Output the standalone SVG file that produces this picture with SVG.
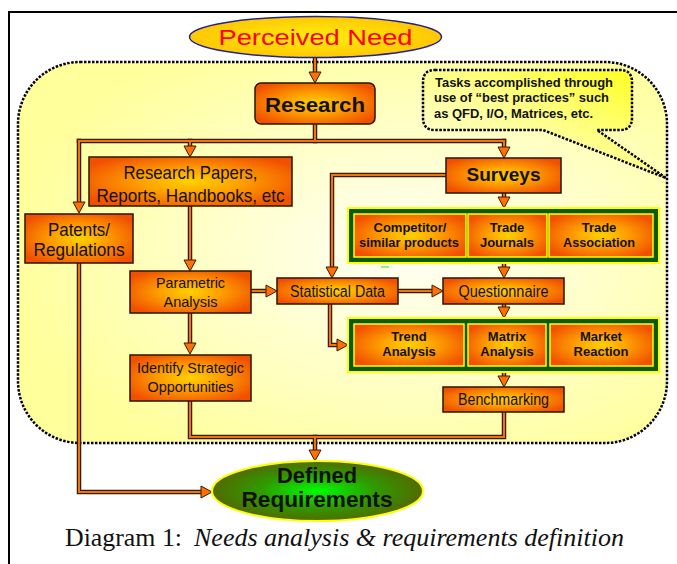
<svg xmlns="http://www.w3.org/2000/svg" xmlns:xlink="http://www.w3.org/1999/xlink" width="677" height="564" viewBox="0 0 677 564">
<defs>
<style>
.box{fill:url(#gOrange);stroke:#2a1400;stroke-width:1.5}
.ibox{fill:url(#gOrange);stroke:#ffff00;stroke-width:1.5}
.frame{fill:#0b5a0b;stroke:#ffff00;stroke-width:2}
.n{font-family:"Liberation Sans Narrow","Liberation Sans",Arial,sans-serif;fill:#111;text-anchor:middle}
.b{font-family:"Liberation Sans",Arial,sans-serif;font-weight:bold;fill:#111;text-anchor:middle}
.dot{stroke:#000;stroke-width:2.5;stroke-dasharray:2.5 1.5}
.co{fill:none;stroke:#3a1c00;stroke-width:4.5;stroke-linecap:square}
.ci{fill:none;stroke:#ee7410;stroke-width:2;stroke-linecap:square}
.arr{marker-end:url(#ah)}
</style>
<radialGradient id="gOrange" cx="0.5" cy="0.5" r="0.6">
<stop offset="0" stop-color="#ffd200"/>
<stop offset="0.4" stop-color="#ffa200"/>
<stop offset="1" stop-color="#f05000"/>
</radialGradient>
<radialGradient id="gRegion" cx="0.6" cy="0.5" r="0.62">
<stop offset="0" stop-color="#fffff6"/>
<stop offset="1" stop-color="#ffff9c"/>
</radialGradient>
<linearGradient id="gCallout" x1="0" y1="1" x2="1" y2="0">
<stop offset="0" stop-color="#fffff0"/>
<stop offset="0.5" stop-color="#ffff90"/>
<stop offset="1" stop-color="#ffff10"/>
</linearGradient>
<radialGradient id="gPerceived" cx="0.5" cy="0.5" r="0.6">
<stop offset="0" stop-color="#ffee10"/>
<stop offset="1" stop-color="#ffc000"/>
</radialGradient>
<radialGradient id="gDefined" cx="0.5" cy="0.5" r="0.55">
<stop offset="0" stop-color="#00ff00"/>
<stop offset="0.5" stop-color="#2f9a00"/>
<stop offset="1" stop-color="#5a6000"/>
</radialGradient>
<marker id="ah" markerUnits="userSpaceOnUse" markerWidth="16" markerHeight="16" refX="1" refY="8" orient="auto" overflow="visible">
<path d="M1,2 L12,8 L1,14 Z" fill="#ff7000" stroke="#3a1c00" stroke-width="1"/>
</marker>
<path id="p1" d="M315,57 V72"/>
<path id="p2" d="M315,124 V141"/>
<path id="p3" d="M79,141 H504"/>
<path id="p4" d="M190,141 V146"/>
<path id="p5" d="M79,141 V202"/>
<path id="p6" d="M504,141 V147"/>
<path id="p7" d="M190,206 V260"/>
<path id="p8" d="M251,291 H266"/>
<path id="p9" d="M446,175 H332 V267"/>
<path id="p10" d="M504,193 V197"/>
<path id="p11" d="M504,263 V267"/>
<path id="p12" d="M398,291 H432"/>
<path id="p13" d="M504,304 V307"/>
<path id="p14" d="M330,304 V345 H337"/>
<path id="p15" d="M504,372 V376"/>
<path id="p16" d="M190,313 V343"/>
<path id="p17" d="M190,401 V437 H504 V412"/>
<path id="p18" d="M315,437 V450"/>
<path id="p19" d="M79,263 V492 H201"/>
</defs>

<rect x="0" y="0" width="677" height="564" fill="#ffffff"/>
<rect id="border" x="9" y="12" width="700" height="600" fill="none" stroke="#000" stroke-width="2"/>

<g id="region">
<rect x="18" y="62" width="649" height="381" rx="62" ry="62" fill="url(#gRegion)" class="dot"/>
</g>

<g id="callout">
<path d="M435,70 H620 Q632,70 632,82 V118 Q632,130 620,130 H597 L666,178 L543,130 H435 Q423,130 423,118 V82 Q423,70 435,70 Z" fill="url(#gCallout)" class="dot"/>
<text font-family="'Liberation Sans',Arial,sans-serif" font-weight="bold" font-size="12" fill="#111">
<tspan x="435" y="87" textLength="178" lengthAdjust="spacingAndGlyphs">Tasks accomplished through</tspan>
<tspan x="434" y="102" textLength="175" lengthAdjust="spacingAndGlyphs">use of “best practices” such</tspan>
<tspan x="434" y="118" textLength="159" lengthAdjust="spacingAndGlyphs">as QFD, I/O, Matrices, etc.</tspan>
</text>
</g>

<g id="connectors">
<g class="co">
<use xlink:href="#p1"/><use xlink:href="#p2"/><use xlink:href="#p3"/><use xlink:href="#p4"/><use xlink:href="#p5"/><use xlink:href="#p6"/><use xlink:href="#p7"/><use xlink:href="#p8"/><use xlink:href="#p9"/><use xlink:href="#p10"/><use xlink:href="#p11"/><use xlink:href="#p12"/><use xlink:href="#p13"/><use xlink:href="#p14"/><use xlink:href="#p15"/><use xlink:href="#p16"/><use xlink:href="#p17"/><use xlink:href="#p18"/><use xlink:href="#p19"/>
</g>
<g class="ci">
<use xlink:href="#p2"/><use xlink:href="#p3"/><use xlink:href="#p17"/>
</g>
<g class="ci arr">
<use xlink:href="#p1"/><use xlink:href="#p4"/><use xlink:href="#p5"/><use xlink:href="#p6"/><use xlink:href="#p7"/><use xlink:href="#p8"/><use xlink:href="#p9"/><use xlink:href="#p10"/><use xlink:href="#p11"/><use xlink:href="#p12"/><use xlink:href="#p13"/><use xlink:href="#p14"/><use xlink:href="#p15"/><use xlink:href="#p16"/><use xlink:href="#p18"/><use xlink:href="#p19"/>
</g>
<line x1="381" y1="267" x2="389" y2="267" stroke="#00ff00" stroke-width="1"/>
</g>

<g id="perceived-need">
<ellipse cx="315.5" cy="37" rx="126" ry="20.5" fill="url(#gPerceived)" stroke="#23238a" stroke-width="1.5"/>
<text x="315.5" y="45" font-family="'Liberation Sans',Arial,sans-serif" font-size="22" fill="#ff0000" text-anchor="middle" textLength="194" lengthAdjust="spacingAndGlyphs">Perceived Need</text>
</g>

<g id="research">
<rect x="255" y="83" width="120" height="41" rx="6" class="box"/>
<text x="315" y="112" class="b" font-size="21" textLength="100" lengthAdjust="spacingAndGlyphs">Research</text>
</g>

<g id="research-papers">
<rect x="89" y="157" width="203" height="49" class="box"/>
<text x="190.5" y="179" class="n" font-size="19" textLength="134" lengthAdjust="spacingAndGlyphs">Research Papers,</text>
<text x="190.5" y="202" class="n" font-size="19" textLength="188" lengthAdjust="spacingAndGlyphs">Reports, Handbooks, etc</text>
</g>

<g id="patents">
<rect x="25" y="214" width="108" height="49" class="box"/>
<text x="79" y="236" class="n" font-size="18" textLength="62" lengthAdjust="spacingAndGlyphs">Patents/</text>
<text x="79" y="256" class="n" font-size="18" textLength="91" lengthAdjust="spacingAndGlyphs">Regulations</text>
</g>

<g id="surveys">
<rect x="446" y="158" width="115" height="35" class="box"/>
<text x="503.5" y="181" class="b" font-size="19" textLength="74" lengthAdjust="spacingAndGlyphs">Surveys</text>
</g>

<g id="sources">
<rect x="348" y="208" width="311" height="55" class="frame"/>
<rect x="354" y="214" width="112" height="43" class="ibox"/>
<rect x="468" y="214" width="79" height="43" class="ibox"/>
<rect x="549" y="214" width="104" height="43" class="ibox"/>
<text x="410" y="232" class="b" font-size="13" textLength="73" lengthAdjust="spacingAndGlyphs">Competitor/</text>
<text x="409" y="247" class="b" font-size="13" textLength="100" lengthAdjust="spacingAndGlyphs">similar products</text>
<text x="507" y="232" class="b" font-size="13">Trade</text>
<text x="507" y="247" class="b" font-size="13">Journals</text>
<text x="599" y="232" class="b" font-size="13">Trade</text>
<text x="599" y="247" class="b" font-size="13" textLength="72" lengthAdjust="spacingAndGlyphs">Association</text>
</g>

<g id="parametric">
<rect x="130" y="271" width="121" height="42" class="box"/>
<text x="190.5" y="288" class="n" font-size="15" textLength="69" lengthAdjust="spacingAndGlyphs">Parametric</text>
<text x="190.5" y="307" class="n" font-size="15" textLength="54" lengthAdjust="spacingAndGlyphs">Analysis</text>
</g>

<g id="statistical-data">
<rect x="277" y="278" width="121" height="26" class="box"/>
<text x="337.5" y="297" class="n" font-size="16" textLength="95" lengthAdjust="spacingAndGlyphs">Statistical Data</text>
</g>

<g id="questionnaire">
<rect x="443" y="278" width="121" height="26" class="box"/>
<text x="503.5" y="297" class="n" font-size="16" textLength="90" lengthAdjust="spacingAndGlyphs">Questionnaire</text>
</g>

<g id="analyses">
<rect x="348" y="318" width="311" height="54" class="frame"/>
<rect x="354" y="324" width="110" height="42" class="ibox"/>
<rect x="468" y="324" width="78" height="42" class="ibox"/>
<rect x="550" y="324" width="103" height="42" class="ibox"/>
<text x="409" y="341" class="b" font-size="13">Trend</text>
<text x="409" y="356" class="b" font-size="13">Analysis</text>
<text x="507" y="341" class="b" font-size="13">Matrix</text>
<text x="507" y="356" class="b" font-size="13">Analysis</text>
<text x="601" y="341" class="b" font-size="13">Market</text>
<text x="601" y="356" class="b" font-size="13">Reaction</text>
</g>

<g id="benchmarking">
<rect x="443" y="387" width="121" height="25" class="box"/>
<text x="503.5" y="405" class="n" font-size="16" textLength="91" lengthAdjust="spacingAndGlyphs">Benchmarking</text>
</g>

<g id="identify">
<rect x="130" y="355" width="121" height="46" class="box"/>
<text x="190.5" y="373" class="n" font-size="15" textLength="107" lengthAdjust="spacingAndGlyphs">Identify Strategic</text>
<text x="190.5" y="392" class="n" font-size="15" textLength="86" lengthAdjust="spacingAndGlyphs">Opportunities</text>
</g>

<g id="defined-requirements">
<ellipse cx="317.5" cy="491" rx="105.5" ry="30" fill="url(#gDefined)" stroke="#ffff00" stroke-width="2"/>
<text x="317" y="483" class="b" font-size="22" textLength="80" lengthAdjust="spacingAndGlyphs">Defined</text>
<text x="317" y="507" class="b" font-size="22" textLength="151" lengthAdjust="spacingAndGlyphs">Requirements</text>
</g>

<g id="caption">
<text y="546" font-family="'Liberation Serif','Times New Roman',serif" font-size="26" fill="#111"><tspan x="65" textLength="117" lengthAdjust="spacingAndGlyphs">Diagram 1:</tspan><tspan x="194" font-style="italic">Needs analysis &amp; requirements definition</tspan></text>
</g>
</svg>
